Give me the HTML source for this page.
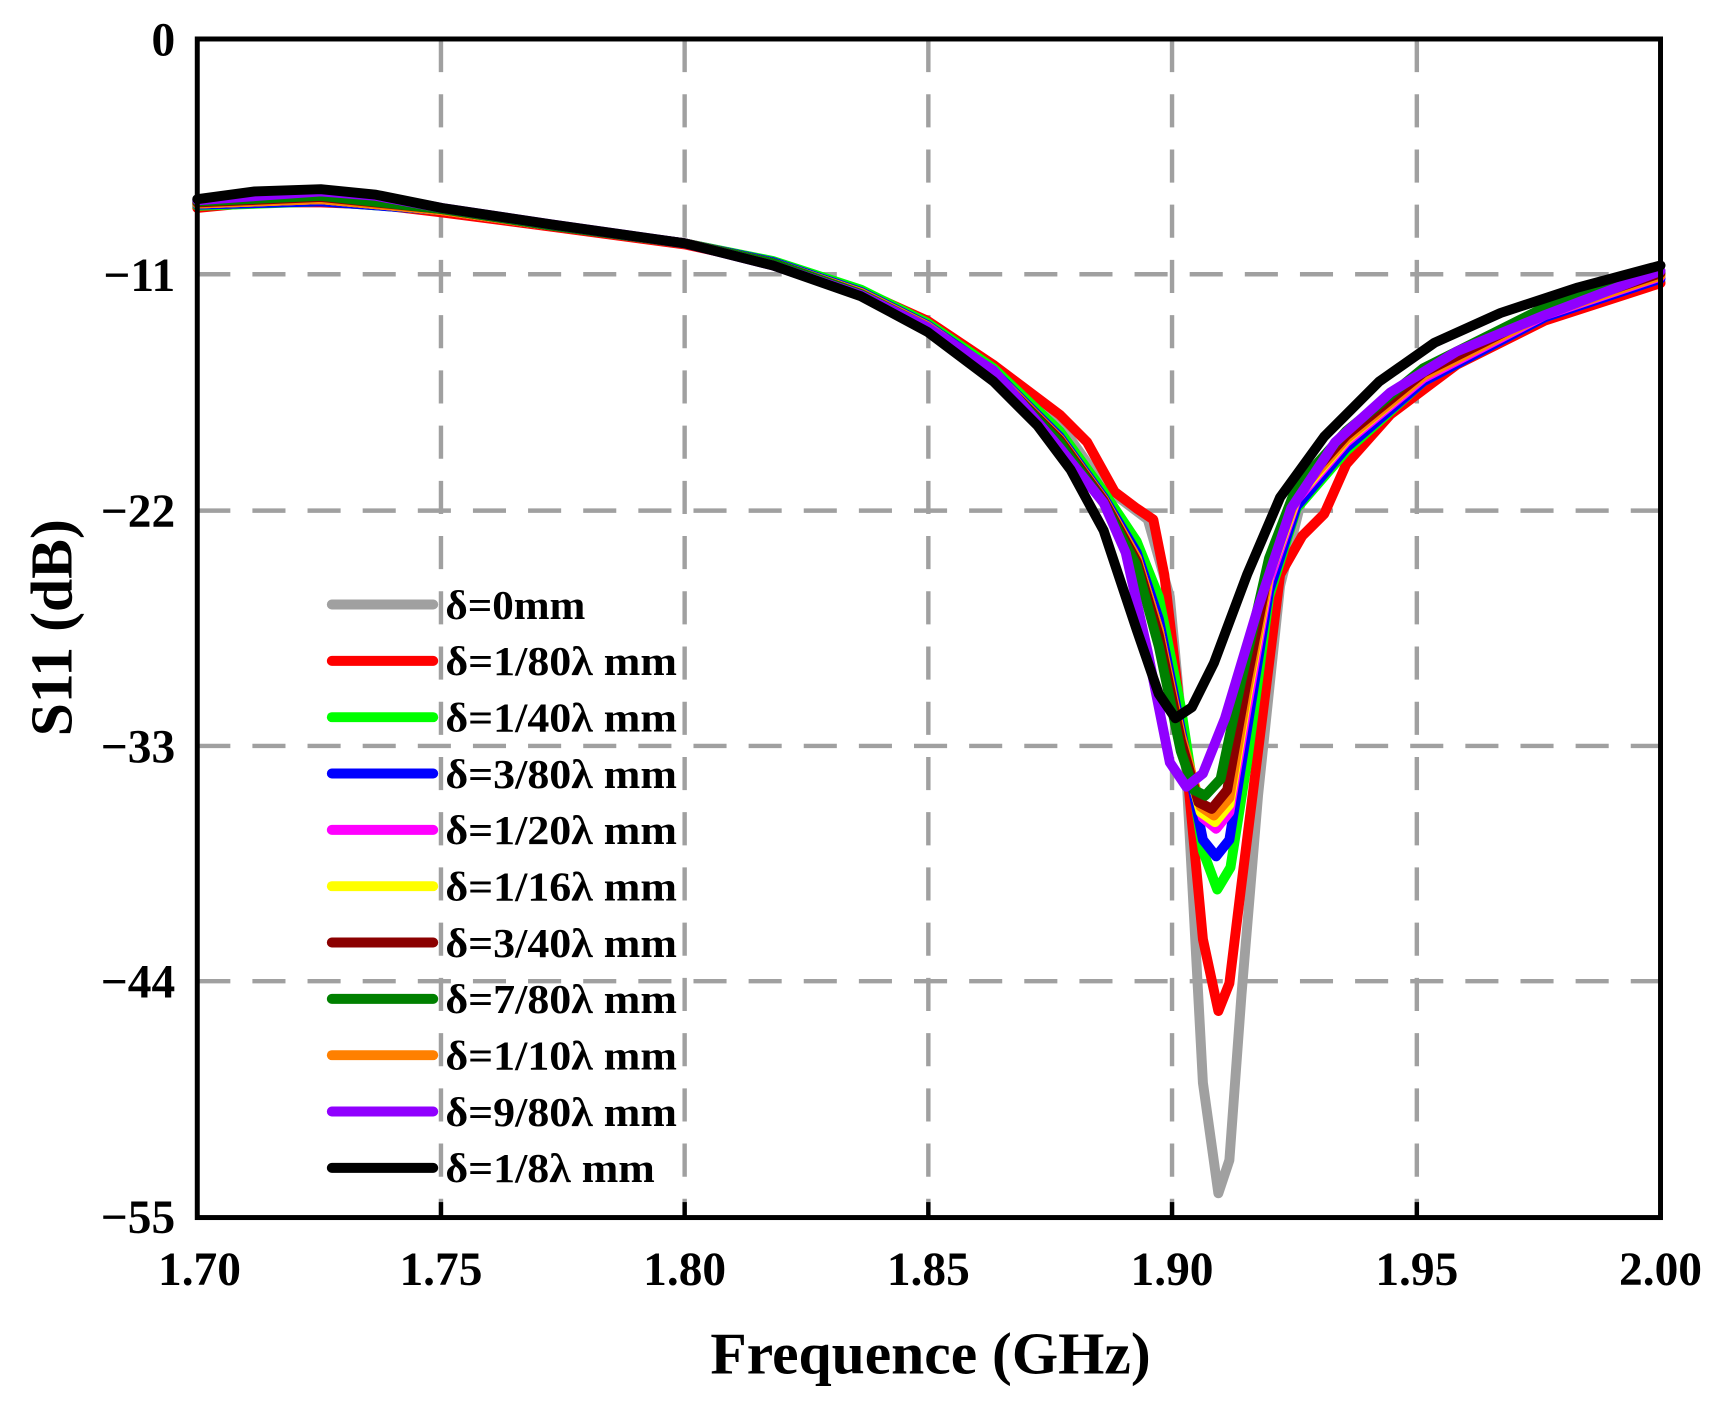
<!DOCTYPE html>
<html><head><meta charset="utf-8"><style>
html,body{margin:0;padding:0;background:#fff;}
svg{display:block;}
text{font-family:"Liberation Serif",serif;font-weight:bold;fill:#000;}
</style></head><body>
<svg width="1729" height="1405" viewBox="0 0 1568 1272" preserveAspectRatio="none" xmlns="http://www.w3.org/2000/svg">
<g transform="translate(0.9,0.3)">
<g stroke="#a0a0a0" stroke-width="4" stroke-dasharray="30,20" fill="none">
<line x1="399" y1="35" x2="399" y2="1102"/>
<line x1="620" y1="35" x2="620" y2="1102"/>
<line x1="841" y1="35" x2="841" y2="1102"/>
<line x1="1062" y1="35" x2="1062" y2="1102"/>
<line x1="1284" y1="35" x2="1284" y2="1102"/>
<line x1="178" y1="248" x2="1505" y2="248"/>
<line x1="178" y1="462" x2="1505" y2="462"/>
<line x1="178" y1="675" x2="1505" y2="675"/>
<line x1="178" y1="888" x2="1505" y2="888"/>
</g>
<g fill="none" stroke-width="9" stroke-linejoin="round" stroke-linecap="round">
<polyline stroke="#a0a0a0" points="178,185 230,180 290,181 340,184 400,191 500,204 620,220 700,238 780,265 840,293 900,330 960,383 1000,440 1040,470 1060,540 1075,700 1090,980 1104,1080 1114,1050 1125,900 1140,720 1160,530 1180,450 1220,400 1290,340 1400,283 1505,255"/>
<polyline stroke="#ff0000" points="178,188 230,183 290,183 340,185 400,192 500,205 620,221 700,238 780,263 840,290 900,330 960,375 985,400 1010,445 1030,460 1045,470 1055,520 1075,690 1090,850 1104,915 1114,890 1125,800 1140,680 1160,520 1180,485 1200,465 1220,420 1260,375 1320,330 1400,290 1505,256"/>
<polyline stroke="#00ff00" points="178,186 290,182 400,190 500,204 620,220 700,236 780,262 840,292 900,333 960,390 1000,445 1030,490 1050,540 1070,640 1090,770 1103,805 1115,785 1130,690 1150,540 1175,460 1220,408 1290,345 1400,287 1505,250"/>
<polyline stroke="#0000ff" points="178,185 290,182 400,190 500,204 620,220 700,237 780,264 840,294 900,336 960,395 1000,450 1030,500 1050,560 1070,660 1090,760 1102,775 1114,760 1130,660 1150,535 1175,458 1220,405 1290,345 1400,287 1505,252"/>
<polyline stroke="#ff00ff" points="178,184 290,180 400,190 500,204 620,220 700,238 780,265 840,295 900,337 960,397 1000,452 1030,505 1050,570 1070,670 1090,740 1102,750 1114,735 1130,640 1150,525 1175,452 1220,400 1290,342 1400,285 1505,250"/>
<polyline stroke="#ffff00" points="178,184 290,180 400,190 500,204 620,220 700,238 780,265 840,295 900,337 960,397 1000,452 1030,505 1050,570 1070,670 1088,735 1101,744 1114,728 1130,630 1150,520 1175,450 1220,398 1290,340 1400,284 1505,249"/>
<polyline stroke="#ff8000" points="178,184 290,180 400,190 500,204 620,220 700,238 780,265 840,295 900,337 960,397 1000,452 1030,505 1050,570 1070,665 1088,730 1100,738 1114,722 1130,625 1150,518 1175,448 1220,397 1290,340 1400,284 1505,249"/>
<polyline stroke="#8b0000" points="178,183 290,178 400,189 500,204 620,220 700,238 780,266 840,296 900,338 960,398 1000,453 1030,508 1050,575 1070,670 1086,726 1098,732 1112,715 1130,615 1150,512 1175,444 1220,394 1290,337 1400,282 1505,247"/>
<polyline stroke="#008000" points="178,182 290,177 400,189 500,204 620,220 700,238 780,266 840,296 900,338 960,400 1000,455 1030,512 1050,585 1070,680 1082,715 1092,720 1106,705 1125,615 1150,505 1175,440 1220,390 1290,333 1400,278 1505,245"/>
<polyline stroke="#9000ff" points="178,181 290,173 340,177 400,188 500,203 620,220 700,240 780,267 840,296 900,335 960,405 1000,455 1020,500 1040,590 1060,690 1075,712 1090,700 1110,650 1140,550 1170,460 1210,400 1260,355 1320,318 1400,285 1505,245"/>
<polyline stroke="#000000" points="178,180 230,173 290,171 340,176 400,188 500,203 620,220 700,240 780,268 840,300 900,345 940,385 970,425 1000,480 1030,570 1050,628 1065,650 1080,640 1100,600 1130,520 1160,450 1200,395 1250,345 1300,310 1360,283 1430,260 1505,240"/>
</g>
<g stroke-width="9" stroke-linecap="round">
<line x1="300" y1="547" x2="392" y2="547" stroke="#a0a0a0"/>
<line x1="300" y1="598" x2="392" y2="598" stroke="#ff0000"/>
<line x1="300" y1="649" x2="392" y2="649" stroke="#00ff00"/>
<line x1="300" y1="700" x2="392" y2="700" stroke="#0000ff"/>
<line x1="300" y1="751" x2="392" y2="751" stroke="#ff00ff"/>
<line x1="300" y1="802" x2="392" y2="802" stroke="#ffff00"/>
<line x1="300" y1="853" x2="392" y2="853" stroke="#8b0000"/>
<line x1="300" y1="904" x2="392" y2="904" stroke="#008000"/>
<line x1="300" y1="955" x2="392" y2="955" stroke="#ff8000"/>
<line x1="300" y1="1006" x2="392" y2="1006" stroke="#9000ff"/>
<line x1="300" y1="1057" x2="392" y2="1057" stroke="#000000"/>
</g>
<g font-size="37">
<text x="403" y="560" textLength="127" lengthAdjust="spacingAndGlyphs">δ=0mm</text>
<text x="403" y="611" textLength="210" lengthAdjust="spacingAndGlyphs">δ=1/80λ mm</text>
<text x="403" y="662" textLength="210" lengthAdjust="spacingAndGlyphs">δ=1/40λ mm</text>
<text x="403" y="713" textLength="210" lengthAdjust="spacingAndGlyphs">δ=3/80λ mm</text>
<text x="403" y="764" textLength="210" lengthAdjust="spacingAndGlyphs">δ=1/20λ mm</text>
<text x="403" y="815" textLength="210" lengthAdjust="spacingAndGlyphs">δ=1/16λ mm</text>
<text x="403" y="866" textLength="210" lengthAdjust="spacingAndGlyphs">δ=3/40λ mm</text>
<text x="403" y="917" textLength="210" lengthAdjust="spacingAndGlyphs">δ=7/80λ mm</text>
<text x="403" y="968" textLength="210" lengthAdjust="spacingAndGlyphs">δ=1/10λ mm</text>
<text x="403" y="1019" textLength="210" lengthAdjust="spacingAndGlyphs">δ=9/80λ mm</text>
<text x="403" y="1070" textLength="190" lengthAdjust="spacingAndGlyphs">δ=1/8λ mm</text>
</g>
<g stroke="#000" stroke-width="4">
<line x1="399" y1="1102" x2="399" y2="1088"/>
<line x1="620" y1="1102" x2="620" y2="1088"/>
<line x1="841" y1="1102" x2="841" y2="1088"/>
<line x1="1062" y1="1102" x2="1062" y2="1088"/>
<line x1="1284" y1="1102" x2="1284" y2="1088"/>
</g>
<rect x="178" y="35" width="1327" height="1067" fill="none" stroke="#000" stroke-width="4.5"/>
<g font-size="43" text-anchor="end">
<text x="158" y="50">0</text>
<text x="158" y="263">−11</text>
<text x="158" y="477">−22</text>
<text x="158" y="690">−33</text>
<text x="158" y="903">−44</text>
<text x="158" y="1116">−55</text>
</g>
<g font-size="43" text-anchor="middle">
<text x="180" y="1163">1.70</text>
<text x="399" y="1163">1.75</text>
<text x="620" y="1163">1.80</text>
<text x="841" y="1163">1.85</text>
<text x="1062" y="1163">1.90</text>
<text x="1284" y="1163">1.95</text>
<text x="1505" y="1163">2.00</text>
</g>
<text x="843" y="1243" font-size="54" text-anchor="middle">Frequence (GHz)</text>
<text transform="translate(64,568) rotate(-90)" font-size="54" text-anchor="middle">S11 (dB)</text>
</g>
</svg>
</body></html>
